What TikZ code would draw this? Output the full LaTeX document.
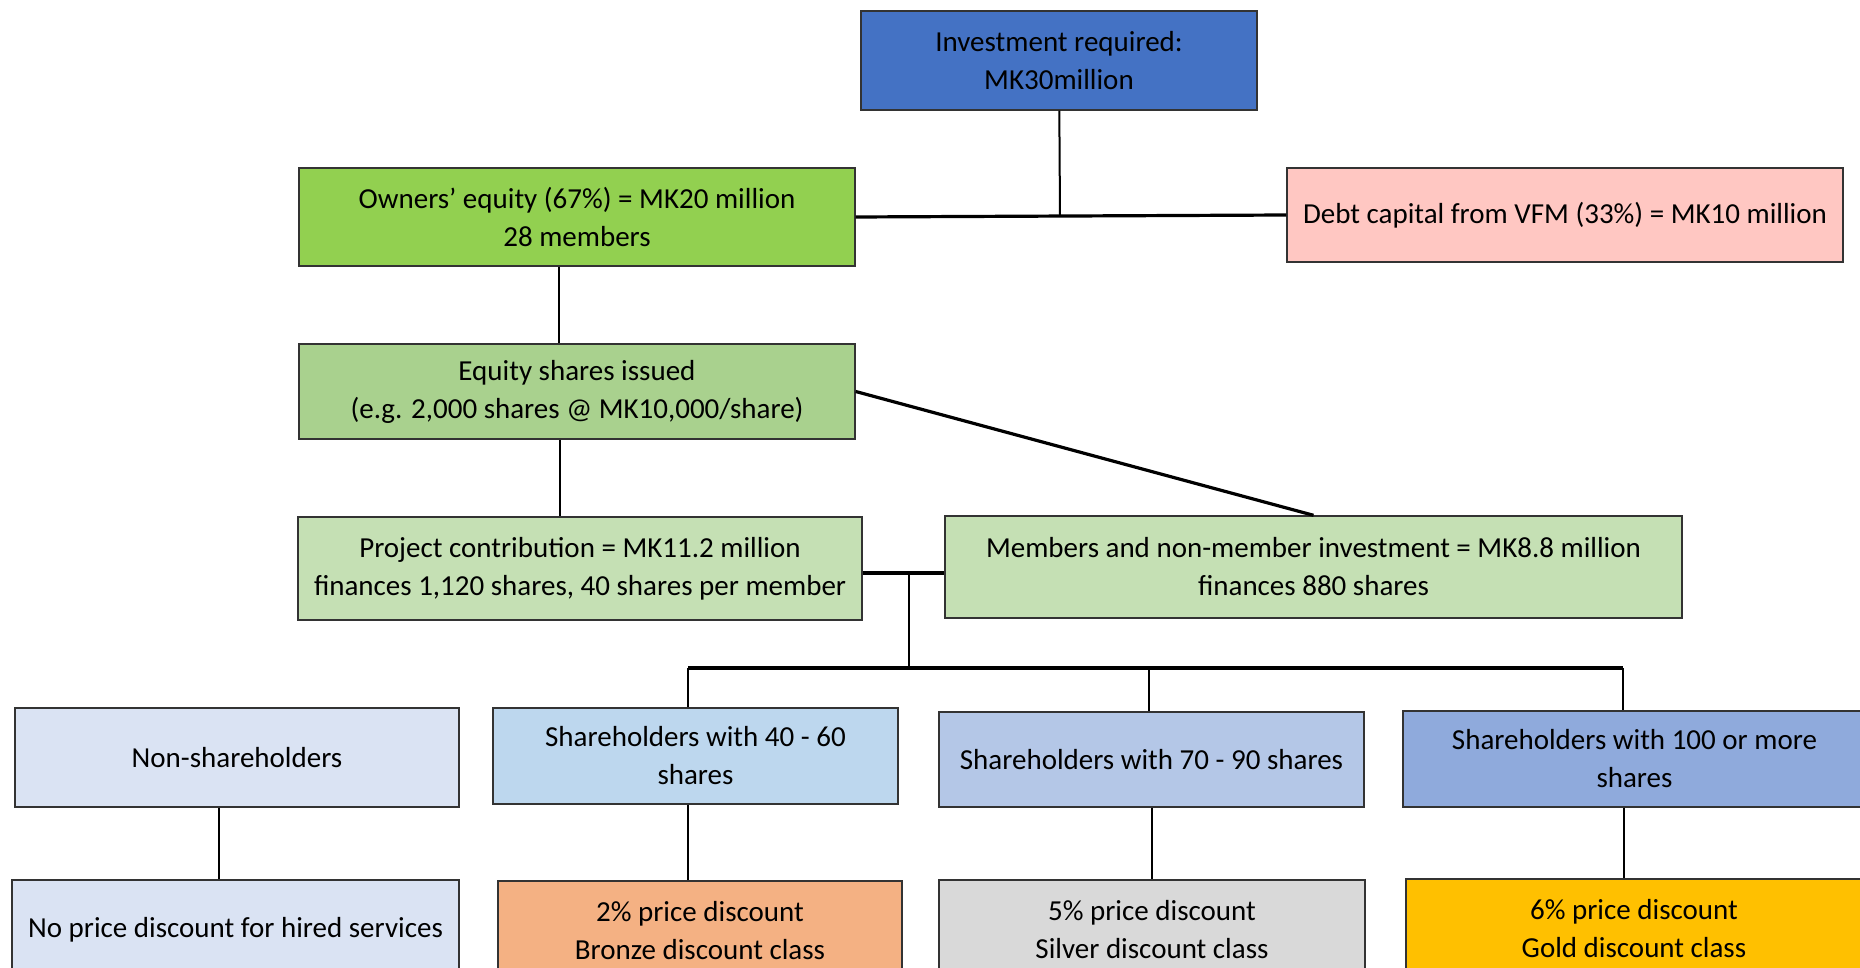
\documentclass[tikz,border=0pt]{standalone}
\usepackage{fontspec}
\setmainfont{Carlito}
\definecolor{invblue}{HTML}{4472C4}
\definecolor{owngreen}{HTML}{92D050}
\definecolor{debtpink}{HTML}{FFC7C2}
\definecolor{eqgreen}{HTML}{A9D18E}
\definecolor{palegreen}{HTML}{C5E0B4}
\definecolor{paleblue}{HTML}{DAE3F3}
\definecolor{skyblue}{HTML}{BDD7EE}
\definecolor{midblue}{HTML}{B4C7E7}
\definecolor{deepblue}{HTML}{8FAADC}
\definecolor{bronze}{HTML}{F4B183}
\definecolor{silver}{HTML}{D9D9D9}
\definecolor{gold}{HTML}{FFC000}
\begin{document}
\begin{tikzpicture}[x=0.5pt,y=-0.5pt,
	every node/.style={draw=black!80,line width=0.7pt,align=center,inner sep=0pt,font=\fontsize{14.5}{19}\selectfont},
	link/.style={line width=1pt},
	bus/.style={line width=1.6pt}]
		\useasboundingbox (0,0) rectangle (1860,968);
		\clip (0,0) rectangle (1860,968);

		\node[fill=invblue,minimum width=198pt,minimum height=49.5pt] (inv) at (1059,60.5) {Investment required:\\MK30million};
		\node[fill=owngreen,minimum width=278pt,minimum height=49pt] (owners) at (577,217) {Owners’ equity (67\%) = MK20 million\\28 members};
		\node[fill=debtpink,minimum width=278pt,minimum height=47pt] (debt) at (1565,215) {Debt capital from VFM (33\%) = MK10 million};
		\node[fill=eqgreen,minimum width=278pt,minimum height=47.5pt] (equity) at (577,391.5) {Equity shares issued\\(e.g. 2,000 shares @ MK10,000/share)};
		\node[fill=palegreen,minimum width=282pt,minimum height=51.5pt] (project) at (580,568.5) {Project contribution = MK11.2 million\\finances 1,120 shares, 40 shares per member};
		\node[fill=palegreen,minimum width=368.5pt,minimum height=51pt] (members) at (1313.5,567) {Members and non-member investment = MK8.8 million\\finances 880 shares};

		\node[fill=paleblue,minimum width=222pt,minimum height=49.5pt] (nonsh) at (237,757.5) {Non-shareholders};
		\node[fill=skyblue,minimum width=202.5pt,minimum height=48pt] (sh40) at (695.5,756) {Shareholders with 40 - 60\\shares};
		\node[fill=midblue,minimum width=212.5pt,minimum height=47.5pt] (sh70) at (1151.5,759.5) {Shareholders with 70 - 90 shares};
		\node[fill=deepblue,minimum width=231.5pt,minimum height=48pt] (sh100) at (1634.5,759) {Shareholders with 100 or more\\shares};

		\node[fill=paleblue,minimum width=223.5pt,minimum height=50pt] (nodisc) at (235.5,930) {No price discount for hired services};
		\node[fill=bronze,minimum width=202pt,minimum height=50pt] (bronzecl) at (700,931) {2\% price discount\\Bronze discount class};
		\node[fill=silver,minimum width=213pt,minimum height=50pt] (silvercl) at (1152,930) {5\% price discount\\Silver discount class};
		\node[fill=gold,minimum width=228pt,minimum height=50pt] (goldcl) at (1634,929) {6\% price discount\\Gold discount class};

		\coordinate (j1) at (1060,216);
		\coordinate (j2) at (909,573);
		\coordinate (j3) at (909,668);
		\coordinate (b1) at (688,668);
		\coordinate (b2) at (1149,668);
		\coordinate (b3) at (1623,668);

		\draw[link] (inv) -- (j1);
		\draw[bus] (owners.east) -- (debt.west);
		\draw[link] ([xshift=-9pt]owners.south) -- ([xshift=-9pt]equity.north);
		\draw[link] ([xshift=-8.5pt]equity.south) -- ([xshift=-8.5pt]equity.south |- project.north);
		\draw[bus] (equity.east) -- (members.north);
		\draw[bus] (project.east |- j2) -- (members.west |- j2);
		\draw[link] (j2) -- (j3);
		\draw[bus] (b1) -- (b3);

		\foreach \b/\n in {b1/sh40,b2/sh70,b3/sh100}
			\draw[link] (\b) -- (\b |- \n.north);
		\foreach \from/\to/\dx in {nonsh/nodisc/-9pt,sh40/bronzecl/-3.75pt,sh70/silvercl/0pt,sh100/goldcl/-5.25pt}
			\draw[link] ([xshift=\dx]\from.south) -- ([xshift=\dx]\from.south |- \to.north);
	\end{tikzpicture}
\end{document}
